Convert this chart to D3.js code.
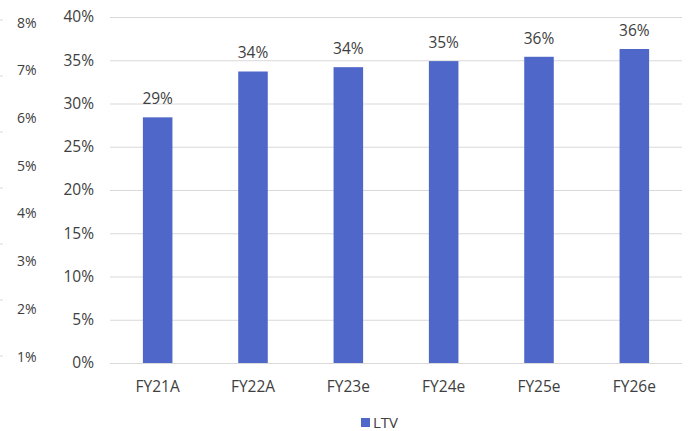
<!DOCTYPE html>
<html>
<head>
<meta charset="utf-8">
<script src="https://cdn.jsdelivr.net/npm/d3@7"></script>
<style>
  body { margin: 0; background: #fff; }
  svg { font-family: "Open Sans", "Noto Sans", sans-serif; }
</style>
</head>
<body>
<svg width="691" height="431"></svg>
<script>
// data
const categories = ["FY21A", "FY22A", "FY23e", "FY24e", "FY25e", "FY26e"];
const ltv = [28.4, 33.7, 34.2, 34.9, 35.4, 36.3];
const ltvLabels = ["29%", "34%", "34%", "35%", "36%", "36%"];
const mainTicks = [0, 5, 10, 15, 20, 25, 30, 35, 40];
const sideTicks = [1, 2, 3, 4, 5, 6, 7, 8];
const seriesName = "LTV";

const width = 691, height = 431;
const plot = { left: 110, right: 682, top: 17, bottom: 363 };
const barColor = "#4E67C8";
const textColor = "#404040";

const svg = d3.select("svg");

const x = d3.scaleBand()
    .domain(categories)
    .range([plot.left, plot.right])
    .paddingInner(0.69)
    .paddingOuter(0.345);

const y = d3.scaleLinear()
    .domain([0, 40])
    .range([plot.bottom, plot.top]);

// gridlines
svg.append("g")
    .selectAll("line")
    .data(mainTicks)
    .enter().append("line")
    .attr("x1", plot.left)
    .attr("x2", plot.right)
    .attr("y1", d => y(d) + 0.5)
    .attr("y2", d => y(d) + 0.5)
    .attr("stroke", "#D9D9D9")
    .attr("stroke-width", 1.2);

// main y axis labels
svg.append("g")
    .selectAll("text")
    .data(mainTicks)
    .enter().append("text")
    .attr("x", 94)
    .attr("y", d => y(d))
    .attr("dy", "0.35em")
    .attr("text-anchor", "end")
    .attr("font-size", 15.5)
    .attr("fill", textColor)
    .text(d => d + "%");

// leftover side axis (from a neighbouring chart)
const ySide = d3.scaleLinear()
    .domain([1, 8])
    .range([356.7, 22.7]);

svg.append("g")
    .selectAll("text")
    .data(sideTicks)
    .enter().append("text")
    .attr("x", 17)
    .attr("y", d => ySide(d))
    .attr("dy", "0.35em")
    .attr("font-size", 14)
    .attr("fill", textColor)
    .text(d => d + "%");

const yDash = d3.scaleLinear()
    .domain([0, 6])
    .range([356, 20]);

svg.append("g")
    .selectAll("line")
    .data(d3.range(7))
    .enter().append("line")
    .attr("x1", 0)
    .attr("x2", 3)
    .attr("y1", d => yDash(d))
    .attr("y2", d => yDash(d))
    .attr("stroke", "#D9D9D9")
    .attr("stroke-width", 1);

// bars
const bars = svg.append("g")
    .selectAll("g.bar")
    .data(ltv)
    .enter().append("g")
    .attr("class", "bar");

bars.append("rect")
    .attr("x", (d, i) => x(categories[i]))
    .attr("y", d => y(d))
    .attr("width", x.bandwidth())
    .attr("height", d => y(0) - y(d))
    .attr("fill", barColor);

bars.append("text")
    .attr("x", (d, i) => x(categories[i]) + x.bandwidth() / 2)
    .attr("y", d => y(d) - 13)
    .attr("text-anchor", "middle")
    .attr("font-size", 15.5)
    .attr("fill", textColor)
    .text((d, i) => ltvLabels[i]);

// category labels
svg.append("g")
    .selectAll("text")
    .data(categories)
    .enter().append("text")
    .attr("x", d => x(d) + x.bandwidth() / 2)
    .attr("y", 387)
    .attr("dy", "0.35em")
    .attr("text-anchor", "middle")
    .attr("font-size", 15.5)
    .attr("fill", textColor)
    .text(d => d);

// legend
const legend = svg.append("g").attr("transform", "translate(361, 418)");
legend.append("rect")
    .attr("width", 9)
    .attr("height", 9)
    .attr("fill", barColor);
legend.append("text")
    .attr("x", 12)
    .attr("y", 10)
    .attr("font-size", 15)
    .attr("fill", textColor)
    .text(seriesName);
</script>
</body>
</html>
